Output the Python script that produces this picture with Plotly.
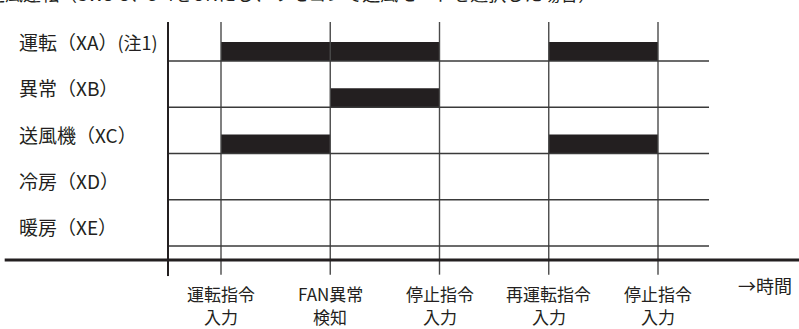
import plotly.graph_objects as go

# ---- data ----
row_labels = ["運転（XA）", "異常（XB）", "送風機（XC）", "冷房（XD）", "暖房（XE）"]
row_notes = ["(注1)", "", "", "", ""]
event_pos = [1, 2, 3, 4, 5]
event_labels_1 = ["運転指令", "FAN異常", "停止指令", "再運転指令", "停止指令"]
event_labels_2 = ["入力", "検知", "入力", "入力", "入力"]
on_starts = [[1, 4], [2], [1, 4], [], []]
on_ends = [[3, 5], [3], [2, 5], [], []]
time_label = "→時間"
title_text = "送風運転（SW3-3、3-4をONにし、リモコンで送風モードを選択した場合）"

FONT = "Noto Sans CJK JP, Noto Sans, sans-serif"
DARK = "#231f20"
GRID = "#4a4a4a"
TXT = "#231f20"

fig = go.Figure()
# invisible trace to establish axes
fig.add_trace(go.Scatter(x=event_pos, y=[0] * len(event_pos), mode="markers",
                         marker=dict(opacity=0), hoverinfo="skip", showlegend=False))

shapes = []
n_rows = len(row_labels)
top_y = 0.157
x_axis_left = 0.515
x_lines_right = 5.467

# vertical event lines
for t in event_pos:
    shapes.append(dict(type="line", xref="x", yref="y", x0=t, x1=t, y0=top_y, y1=5.62,
                       line=dict(color=GRID, width=1.4)))
# row base lines
for i in range(n_rows):
    b = i + 1
    shapes.append(dict(type="line", xref="x", yref="y", x0=x_axis_left, x1=x_lines_right,
                       y0=b, y1=b, line=dict(color="#3a3a3a", width=1.6)))
# bars
for i in range(n_rows):
    b = i + 1
    for s, e in zip(on_starts[i], on_ends[i]):
        shapes.append(dict(type="rect", xref="x", yref="y", x0=s, x1=e, y0=b - 0.41, y1=b,
                           fillcolor=DARK, line=dict(width=0), layer="below"))
# left axis line
shapes.append(dict(type="line", xref="x", yref="y", x0=x_axis_left, x1=x_axis_left,
                   y0=top_y, y1=5.65, line=dict(color=DARK, width=2)))
# time axis (thick)
shapes.append(dict(type="line", xref="x", yref="y", x0=-0.98, x1=6.3, y0=5.303, y1=5.303,
                   line=dict(color=DARK, width=3)))

annotations = []
for i, (lab, note) in enumerate(zip(row_labels, row_notes)):
    txt = lab + (f"<span style='font-size:18px'>{note}</span>" if note else "")
    annotations.append(dict(x=-0.867, y=i + 0.58, xref="x", yref="y", text=txt,
                            xanchor="left", yanchor="middle", showarrow=False,
                            font=dict(family=FONT, size=19, color=TXT)))
for t, l1, l2 in zip(event_pos, event_labels_1, event_labels_2):
    annotations.append(dict(x=t, y=6.038, xref="x", yref="y", text=l1,
                            xanchor="center", yanchor="middle", showarrow=False,
                            font=dict(family=FONT, size=17, color=TXT)))
    annotations.append(dict(x=t, y=6.535, xref="x", yref="y", text=l2,
                            xanchor="center", yanchor="middle", showarrow=False,
                            font=dict(family=FONT, size=17, color=TXT)))
annotations.append(dict(x=5.714, y=5.843, xref="x", yref="y", text=time_label,
                        xanchor="left", yanchor="middle", showarrow=False,
                        font=dict(family=FONT, size=18, color=TXT)))
# title line, mostly cut off at the top edge as in the reference
annotations.append(dict(x=-15 / 799, y=1 + 7 / 329, xref="paper", yref="paper", text=title_text,
                        xanchor="left", yanchor="middle", showarrow=False,
                        font=dict(family=FONT, size=18, color=TXT)))

fig.update_layout(
    width=799, height=329,
    margin=dict(l=0, r=0, t=0, b=0),
    paper_bgcolor="white", plot_bgcolor="white",
    xaxis=dict(range=[-1.0229, 6.2906], visible=False, fixedrange=True),
    yaxis=dict(range=[6.795, -0.319], visible=False, fixedrange=True),
    shapes=shapes, annotations=annotations, showlegend=False,
)
fig.write_html("out.html", config={"displayModeBar": False},
               post_script="document.body.style.margin='0';document.body.style.padding='0';")
